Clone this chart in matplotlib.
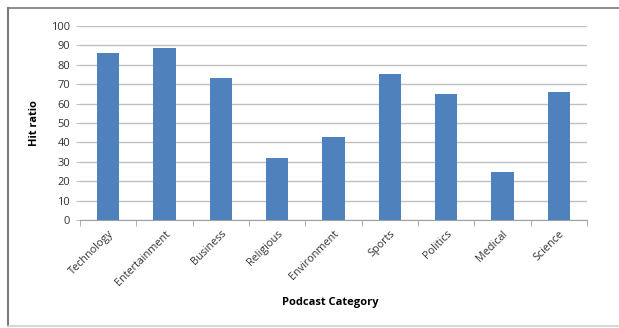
import matplotlib
matplotlib.use("Agg")
import matplotlib.pyplot as plt
import numpy as np
from matplotlib.lines import Line2D

categories = ["Technology", "Entertainment", "Business", "Religious", "Environment",
              "Sports", "Politics", "Medical", "Science"]
hit_ratio = [86, 88.5, 73, 32, 43, 75.3, 65, 25, 66]
yticks = list(range(0, 101, 10))

plt.rcParams['font.family'] = ['Open Sans', 'DejaVu Sans']

W, H = 619, 328
fig = plt.figure(figsize=(W/100, H/100), dpi=100)
ax = fig.add_axes([80/W, (H-220)/H, 507/W, 194/H])

x = np.arange(len(categories))
ax.bar(x, hit_ratio, width=0.4, color="#4f81bd", zorder=3)
ax.set_xlim(-0.5, len(categories) - 0.5)
ax.set_ylim(0, 100)
ax.set_yticks(yticks)
ax.set_yticklabels([str(t) for t in yticks], fontsize=8, color="#333333")
ax.grid(axis="y", color="#c0c0c0", linewidth=1, zorder=0)
ax.tick_params(axis="y", length=3, color="#c0c0c0", pad=4)

ax.set_xticks(x)
ax.set_xticklabels(categories, rotation=45, ha="right", rotation_mode="anchor",
                   fontsize=7.8, color="#333333")
ax.tick_params(axis="x", length=0, pad=6)
ax.set_xticks(np.arange(-0.5, len(categories)), minor=True)
ax.tick_params(axis="x", which="minor", length=4, color="#a0a0a0")

for s in ["top", "right", "left"]:
    ax.spines[s].set_visible(False)
ax.spines["bottom"].set_color("#a0a0a0")

ax.set_ylabel("Hit ratio", fontsize=8, fontweight="bold", labelpad=8)
fig.text(330/W, 1 - 303/H, "Podcast Category", fontsize=8, fontweight="bold",
         ha="center", va="center")

# outer chart border (top, left dark; bottom light)
fig.add_artist(Line2D([7.5/W, 1], [1 - 7.5/H, 1 - 7.5/H], transform=fig.transFigure,
                      color="#7a7a7a", linewidth=1.2))
fig.add_artist(Line2D([7.5/W, 7.5/W], [1 - 7.5/H, 1 - 326/H], transform=fig.transFigure,
                      color="#7a7a7a", linewidth=1.5))
fig.add_artist(Line2D([7.5/W, 1], [1 - 326/H, 1 - 326/H], transform=fig.transFigure,
                      color="#d0d0d0", linewidth=1.2))

fig.savefig("out.png", dpi=100)
